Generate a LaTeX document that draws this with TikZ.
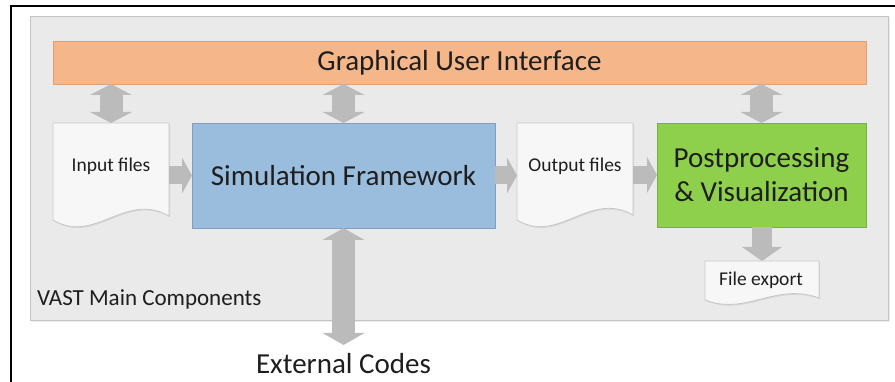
\documentclass[tikz,border=0pt]{standalone}
\usepackage{fontspec}
\setmainfont{Carlito}
\usetikzlibrary{arrows.meta,shadows}
\definecolor{panelfill}{HTML}{EAEAEA}
\definecolor{paneldraw}{HTML}{C4C4C4}
\definecolor{guifill}{HTML}{F5B68A}
\definecolor{guidraw}{HTML}{E39F70}
\definecolor{simfill}{HTML}{9BBDDD}
\definecolor{simdraw}{HTML}{7E9FC2}
\definecolor{postfill}{HTML}{8ECF4C}
\definecolor{postdraw}{HTML}{74B33A}
\definecolor{arrowgray}{HTML}{BBBBBB}
\definecolor{docdraw}{HTML}{C8C8C8}
\definecolor{txt}{HTML}{1E1E1E}
\newcommand\mydocshape[6]{%
  \filldraw[docbody] (#1,#3) -- (#2,#3) -- (#2,#5)
    .. controls ({#1+0.62*(#2-#1)},{#5-#6}) and ({#1+0.36*(#2-#1)},{#4+#6}) .. (#1,#4) -- cycle;}
\begin{document}
\begin{tikzpicture}[x=1pt,y=-1pt,
  every node/.style={outer sep=0pt, inner sep=0pt, text=txt},
  box/.style={draw, line width=0.8pt, drop shadow={opacity=0.2, shadow xshift=1.2pt, shadow yshift=-1.2pt}},
  docbody/.style={fill=white!97!black, draw=docdraw, line width=0.8pt, drop shadow={opacity=0.18, shadow xshift=1.2pt, shadow yshift=-1.2pt}},
  docnode/.style={draw=none, fill=none},
  bigtext/.style={font=\fontsize{29}{35}\selectfont},
  smalltext/.style={font=\fontsize{19.5}{23}\selectfont},
  vdarrow/.style={draw=arrowgray, line width=23pt,
     {Triangle[width=42pt,length=11pt,line width=0pt]}-{Triangle[width=42pt,length=11pt,line width=0pt]}},
  rarrow/.style={draw=arrowgray, line width=18pt,
     -{Triangle[width=36pt,length=10pt,line width=0pt]}},
  darrow/.style={draw=arrowgray, line width=20pt,
     -{Triangle[width=40pt,length=14pt,line width=0pt]}}
]
\useasboundingbox (0,0) rectangle (895,382);
\fill[white] (0,0) rectangle (895,382);
% outer frame (clipped)
\draw[black, line width=2.5pt] (11,382) -- (11,6) -- (895,6);
% main panel
\node[draw=paneldraw, fill=panelfill, line width=1pt, minimum width=858, minimum height=304,
      drop shadow={opacity=0.15, shadow xshift=1.5pt, shadow yshift=-1.5pt}] (panel) at (459,169) {};
% GUI bar
\node[box, draw=guidraw, fill=guifill, minimum width=813, minimum height=43, bigtext] (gui) at (459.5,62.5) {Graphical User Interface};
% simulation framework
\node[box, draw=simdraw, fill=simfill, minimum width=303, minimum height=105, bigtext] (sim) at (343.5,175.5) {Simulation Framework};
% postprocessing
\node[box, draw=postdraw, fill=postfill, minimum width=209, minimum height=104, bigtext, align=center] (post) at (761.5,175) {Postprocessing\\[-1pt]\& Visualization};
% documents
\mydocshape{53}{169}{123}{220}{216}{25}
\node[docnode, minimum width=116, minimum height=97] (in) at (111,171.5) {};
\node[smalltext] (inT) at (111,166) {Input files};
\mydocshape{517}{633}{123}{220}{215}{25}
\node[docnode, minimum width=116, minimum height=97] (out) at (575,171.5) {};
\node[smalltext] (outT) at (575,166) {Output files};
\mydocshape{705}{819}{261}{300}{298}{16}
\node[docnode, minimum width=114, minimum height=39] (exp) at (762,280.5) {};
\node[smalltext] (expT) at (761,280) {File export};
% labels
\node[font=\fontsize{23}{27}\selectfont, anchor=west] (vast) at (37,299) {VAST Main Components};
\node[bigtext] (ext) at (343.5,364) {External Codes};
\coordinate (extTip) at (343.5,345);
% arrows GUI <-> boxes
\draw[vdarrow] (gui.south -| in.north) -- (in.north);
\draw[vdarrow] (gui.south -| sim.north) -- (sim.north);
\draw[vdarrow] (gui.south -| post.north) -- (post.north);
% horizontal flow
\draw[rarrow] (in.east |- sim.west) -- (sim.west);
\draw[rarrow] (sim.east) -- (sim.east -| out.west);
\draw[rarrow] (out.east |- post.west) -- (post.west);
% down to export
\draw[darrow] (post.south -| exp.north) -- (exp.north);
% external codes
\draw[draw=arrowgray, line width=23pt,
  {Triangle[width=42pt,length=12pt,line width=0pt]}-{Triangle[width=42pt,length=12pt,line width=0pt]}] (sim.south) -- (extTip);
\end{tikzpicture}
\end{document}
